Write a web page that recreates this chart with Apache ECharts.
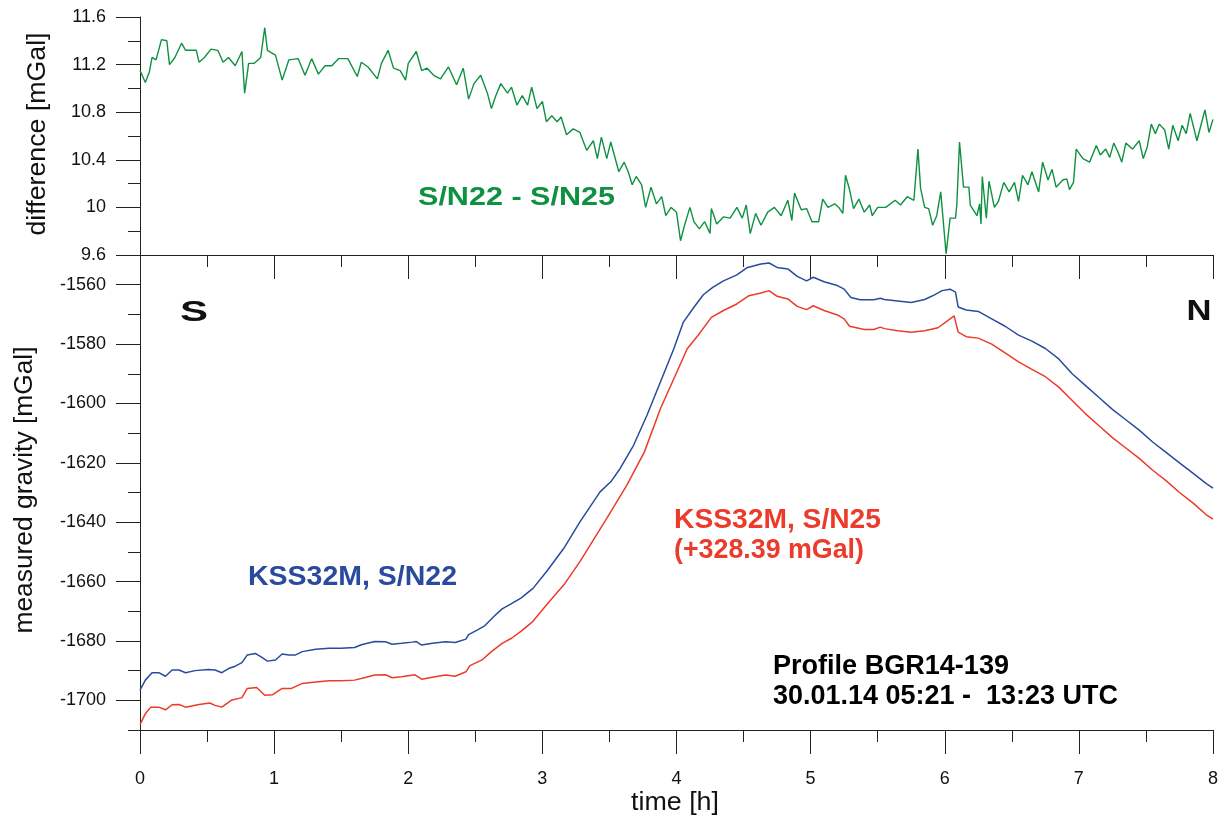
<!DOCTYPE html>
<html>
<head>
<meta charset="utf-8">
<script src="https://cdn.jsdelivr.net/npm/echarts@6/dist/echarts.min.js"></script>
<style>
  html, body { margin: 0; padding: 0; background: #fff; }
  #chart { width: 1225px; height: 819px; }
</style>
</head>
<body>
<div id="chart"></div>
<script>
// time [h] and difference S/N22 - S/N25 [mGal]
const diffTime = [0.00,0.04,0.07,0.09,0.12,0.16,0.20,0.22,0.26,0.31,0.34,0.42,0.44,0.48,0.53,0.58,0.62,0.66,0.71,0.76,0.78,0.81,0.85,0.90,0.93,0.95,1.01,1.06,1.11,1.18,1.23,1.28,1.33,1.38,1.43,1.48,1.55,1.62,1.65,1.70,1.77,1.80,1.85,1.89,1.94,1.98,2.00,2.06,2.10,2.14,2.19,2.24,2.30,2.36,2.41,2.45,2.49,2.54,2.59,2.62,2.65,2.69,2.74,2.77,2.81,2.85,2.89,2.92,2.96,3.00,3.03,3.07,3.11,3.14,3.18,3.23,3.28,3.33,3.38,3.41,3.44,3.48,3.51,3.57,3.61,3.64,3.67,3.70,3.74,3.77,3.81,3.85,3.89,3.92,3.96,4.00,4.03,4.06,4.10,4.13,4.17,4.21,4.25,4.26,4.30,4.35,4.40,4.45,4.49,4.52,4.55,4.59,4.63,4.68,4.73,4.78,4.83,4.86,4.88,4.93,4.97,5.01,5.06,5.09,5.13,5.18,5.21,5.24,5.26,5.29,5.32,5.36,5.40,5.44,5.46,5.50,5.56,5.63,5.67,5.72,5.77,5.80,5.82,5.85,5.88,5.91,5.94,5.97,6.01,6.04,6.08,6.09,6.11,6.14,6.18,6.19,6.24,6.26,6.27,6.28,6.31,6.33,6.37,6.40,6.44,6.48,6.52,6.55,6.58,6.62,6.65,6.70,6.73,6.77,6.80,6.83,6.88,6.91,6.93,6.96,6.98,7.03,7.08,7.13,7.16,7.20,7.23,7.26,7.29,7.32,7.35,7.40,7.45,7.48,7.51,7.54,7.57,7.60,7.64,7.67,7.70,7.74,7.77,7.80,7.83,7.88,7.91,7.94,7.97,8.00];
const diffValue = [11.15,11.05,11.14,11.26,11.24,11.41,11.40,11.20,11.26,11.38,11.32,11.32,11.22,11.26,11.33,11.32,11.22,11.26,11.19,11.31,10.96,11.21,11.21,11.26,11.51,11.32,11.28,11.07,11.24,11.25,11.11,11.25,11.12,11.19,11.19,11.25,11.25,11.10,11.22,11.18,11.08,11.21,11.32,11.17,11.15,11.07,11.21,11.31,11.15,11.17,11.11,11.08,11.18,11.03,11.17,10.91,11.04,11.11,10.96,10.83,10.93,11.04,10.96,11.01,10.86,10.94,10.86,11.01,10.83,10.89,10.72,10.77,10.72,10.76,10.61,10.66,10.63,10.48,10.56,10.41,10.59,10.41,10.55,10.30,10.38,10.30,10.19,10.26,10.19,10.00,10.17,10.03,10.09,9.93,10.00,9.96,9.72,9.85,10.00,9.88,9.82,9.88,9.78,9.99,9.86,9.92,9.91,10.00,9.91,10.02,9.78,9.95,9.85,9.96,10.00,9.93,10.06,9.89,10.12,9.98,9.99,9.88,9.88,10.07,10.00,10.03,10.00,9.95,10.27,10.15,9.99,10.07,9.96,10.02,9.93,10.00,10.00,10.06,10.02,10.09,10.06,10.49,10.16,10.00,9.99,9.85,9.93,10.13,9.61,9.91,9.91,10.02,10.55,10.17,10.17,10.02,9.93,10.03,9.86,10.26,9.91,10.22,10.00,10.05,10.21,10.13,10.21,10.05,10.27,10.19,10.30,10.13,10.38,10.23,10.32,10.17,10.23,10.24,10.15,10.21,10.49,10.41,10.38,10.52,10.44,10.49,10.42,10.54,10.47,10.38,10.54,10.49,10.56,10.41,10.51,10.70,10.62,10.70,10.65,10.49,10.69,10.56,10.69,10.62,10.79,10.56,10.69,10.82,10.63,10.74];

// KSS32M, S/N22 [mGal]
const s22Time = [0,0.04,0.09,0.14,0.19,0.24,0.29,0.34,0.41,0.51,0.56,0.61,0.66,0.71,0.76,0.80,0.86,0.90,0.95,1.01,1.06,1.11,1.16,1.21,1.31,1.41,1.50,1.60,1.65,1.75,1.83,1.88,1.95,2.03,2.06,2.10,2.18,2.28,2.35,2.43,2.45,2.52,2.57,2.64,2.70,2.76,2.84,2.93,3.03,3.16,3.28,3.43,3.51,3.58,3.68,3.78,3.88,3.98,4.05,4.13,4.20,4.27,4.35,4.45,4.53,4.63,4.69,4.75,4.83,4.90,4.97,5.02,5.10,5.20,5.25,5.30,5.37,5.47,5.52,5.55,5.65,5.75,5.85,5.92,5.98,6.04,6.08,6.10,6.16,6.25,6.35,6.45,6.55,6.65,6.75,6.85,6.95,7.05,7.15,7.25,7.35,7.45,7.55,7.65,7.75,7.85,7.95,8.00];
const s22Value = [-1696.6,-1693.2,-1690.7,-1690.7,-1691.9,-1689.8,-1689.8,-1690.7,-1690.0,-1689.6,-1689.8,-1690.7,-1689.3,-1688.5,-1687.3,-1684.7,-1684.2,-1685.3,-1686.8,-1686.4,-1684.4,-1684.7,-1684.7,-1683.6,-1682.8,-1682.5,-1682.5,-1682.2,-1681.3,-1680.2,-1680.3,-1681.1,-1680.8,-1680.4,-1680.2,-1681.4,-1680.8,-1680.3,-1680.5,-1679.4,-1677.9,-1676.2,-1674.9,-1671.7,-1669.2,-1667.7,-1665.6,-1662.3,-1656.7,-1648.8,-1639.9,-1629.8,-1626.4,-1621.9,-1614.1,-1604.0,-1592.8,-1581.6,-1572.7,-1567.6,-1563.4,-1560.9,-1558.7,-1556.7,-1554.2,-1553.0,-1552.7,-1554.2,-1554.7,-1557.2,-1558.7,-1557.5,-1559.0,-1560.3,-1561.5,-1564.3,-1565.1,-1565.1,-1564.6,-1565.0,-1565.5,-1566.0,-1565.0,-1563.5,-1562.0,-1561.5,-1562.5,-1567.5,-1568.5,-1569.0,-1571.5,-1574.0,-1577.0,-1579.0,-1581.5,-1585.0,-1590.0,-1594.0,-1598.0,-1602.0,-1605.5,-1609.0,-1613.0,-1616.5,-1620.0,-1623.5,-1627.0,-1628.5];

// KSS32M, S/N25 (+328.39 mGal)
const s25Time = [0,0.04,0.08,0.14,0.19,0.24,0.29,0.34,0.44,0.52,0.56,0.61,0.68,0.76,0.80,0.87,0.93,0.99,1.06,1.13,1.21,1.31,1.41,1.50,1.60,1.68,1.75,1.83,1.88,1.95,2.05,2.10,2.20,2.28,2.35,2.43,2.46,2.55,2.62,2.70,2.77,2.84,2.93,3.03,3.16,3.28,3.48,3.63,3.76,3.88,3.98,4.08,4.16,4.26,4.35,4.45,4.54,4.63,4.69,4.75,4.83,4.90,4.97,5.02,5.10,5.20,5.25,5.29,5.40,5.47,5.52,5.55,5.65,5.75,5.85,5.95,6.04,6.07,6.10,6.16,6.25,6.35,6.45,6.55,6.65,6.75,6.85,6.95,7.05,7.15,7.25,7.35,7.45,7.55,7.65,7.75,7.85,7.95,8.00];
const s25Value = [-1708.2,-1704.5,-1702.3,-1702.3,-1703.2,-1701.5,-1701.4,-1702.3,-1701.4,-1700.9,-1701.7,-1702.3,-1700.0,-1699.1,-1696.0,-1695.7,-1698.3,-1698.1,-1696.0,-1696.0,-1694.3,-1693.8,-1693.4,-1693.4,-1693.2,-1692.3,-1691.5,-1691.4,-1692.4,-1692.1,-1691.4,-1692.9,-1692.1,-1691.5,-1691.9,-1690.4,-1688.3,-1686.4,-1683.6,-1680.8,-1679.1,-1676.8,-1673.4,-1667.9,-1661.1,-1653.3,-1638.7,-1627.5,-1616.4,-1601.8,-1591.7,-1581.6,-1577.1,-1571.0,-1568.7,-1566.5,-1563.7,-1562.8,-1562.0,-1563.9,-1564.8,-1567.3,-1568.4,-1567.1,-1568.7,-1570.2,-1571.5,-1574.0,-1575.1,-1575.1,-1574.3,-1574.8,-1575.5,-1576.0,-1575.5,-1574.5,-1571.5,-1570.5,-1576.0,-1577.5,-1578.0,-1580.0,-1583.0,-1586.0,-1588.5,-1591.0,-1594.5,-1599.0,-1603.5,-1607.5,-1611.5,-1615.0,-1618.5,-1622.5,-1626.0,-1630.0,-1633.5,-1637.5,-1639.0];

const gravityMajor = [-1700, -1680, -1660, -1640, -1620, -1600, -1580, -1560];
const gravityMinor = [-1710, -1690, -1670, -1650, -1630, -1610, -1590, -1570];

const zip = (t, v) => t.map((x, i) => [x, v[i]]);

const FONT = "'Liberation Sans', Arial, sans-serif";
const GREEN = '#0f9142';
const BLUE = '#2a4a9e';
const RED = '#ec3b2a';

// squeeze text to the width it takes in the original
const ctx = document.createElement('canvas').getContext('2d');
function fit(text, size, weight, width) {
  ctx.font = weight + ' ' + size + 'px ' + FONT;
  return width / ctx.measureText(text).width;
}
function label(text, x, y, size, weight, color, width, opts) {
  opts = opts || {};
  return {
    type: 'text', x: x, y: y, z: 100,
    rotation: opts.rotation || 0,
    scaleX: fit(text, size, weight, width),
    style: {
      text: text, fill: color,
      fontSize: size, fontWeight: weight, fontFamily: FONT,
      textAlign: opts.align || 'left', textVerticalAlign: 'middle'
    }
  };
}

const tickStyle = { color: '#222', width: 1 };
const axisText = { fontSize: 18, color: '#111', fontFamily: FONT, formatter: v => String(v) };

const myChart = echarts.init(document.getElementById('chart'));
const option = {
  animation: false,
  backgroundColor: '#fff',
  grid: [
    { left: 140, right: 12, top: 17, height: 238 },
    { left: 140, right: 12, top: 255, height: 475 }
  ],
  xAxis: [
    {
      gridIndex: 0, type: 'value', min: 0, max: 8, interval: 1,
      axisLine: { onZero: false, lineStyle: tickStyle },
      axisTick: { length: 24, lineStyle: tickStyle },
      minorTick: { show: true, splitNumber: 2, length: 12, lineStyle: tickStyle },
      axisLabel: { show: false },
      splitLine: { show: false }
    },
    {
      gridIndex: 1, type: 'value', min: 0, max: 8, interval: 1,
      axisLine: { onZero: false, lineStyle: tickStyle },
      axisTick: { length: 24, lineStyle: tickStyle },
      minorTick: { show: true, splitNumber: 2, length: 12, lineStyle: tickStyle },
      axisLabel: Object.assign({ margin: 40 }, axisText),
      splitLine: { show: false }
    }
  ],
  yAxis: [
    {
      gridIndex: 0, type: 'value', min: 9.6, max: 11.6, interval: 0.4,
      axisLine: { show: true, lineStyle: tickStyle },
      axisTick: { show: true, length: 24, lineStyle: tickStyle },
      minorTick: { show: true, splitNumber: 2, length: 12, lineStyle: tickStyle },
      axisLabel: Object.assign({ margin: 34 }, axisText),
      splitLine: { show: false }
    },
    {
      gridIndex: 1, type: 'value', position: 'left', min: -1710, max: -1550,
      axisLine: { show: true, lineStyle: tickStyle },
      axisTick: { show: true, length: 24, customValues: gravityMajor, lineStyle: tickStyle },
      axisLabel: Object.assign({ margin: 34, customValues: gravityMajor }, axisText),
      splitLine: { show: false }
    },
    {
      gridIndex: 1, type: 'value', position: 'left', offset: 0, min: -1710, max: -1550,
      axisLine: { show: false },
      axisTick: { show: true, length: 12, customValues: gravityMinor, lineStyle: tickStyle },
      axisLabel: { show: false },
      splitLine: { show: false }
    }
  ],
  series: [
    {
      name: 'S/N22 - S/N25', type: 'line', xAxisIndex: 0, yAxisIndex: 0,
      data: zip(diffTime, diffValue), showSymbol: false, symbol: 'none',
      lineStyle: { color: GREEN, width: 1.4 }
    },
    {
      name: 'KSS32M, S/N22', type: 'line', xAxisIndex: 1, yAxisIndex: 1,
      data: zip(s22Time, s22Value), showSymbol: false, symbol: 'none',
      lineStyle: { color: BLUE, width: 1.5 }
    },
    {
      name: 'KSS32M, S/N25', type: 'line', xAxisIndex: 1, yAxisIndex: 1,
      data: zip(s25Time, s25Value), showSymbol: false, symbol: 'none',
      lineStyle: { color: RED, width: 1.5 }
    }
  ],
  graphic: [
    label('difference [mGal]', 38, 134, 26, 'normal', '#111', 203, { rotation: Math.PI / 2, align: 'center' }),
    label('measured gravity [mGal]', 25, 490, 26, 'normal', '#111', 287, { rotation: Math.PI / 2, align: 'center' }),
    label('time [h]', 675, 803, 25, 'normal', '#111', 88, { align: 'center' }),
    label('S/N22 - S/N25', 418, 198, 26, 'bold', GREEN, 197),
    label('S', 194, 313, 30, 'bold', '#111', 28, { align: 'center' }),
    label('N', 1199, 312, 30, 'bold', '#111', 25, { align: 'center' }),
    label('KSS32M, S/N22', 248, 578, 27, 'bold', BLUE, 209),
    label('KSS32M, S/N25', 674, 521, 27, 'bold', RED, 207),
    label('(+328.39 mGal)', 674, 551, 27, 'bold', RED, 190),
    label('Profile BGR14-139', 773, 667, 27, 'bold', '#000', 236),
    label('30.01.14 05:21 -  13:23 UTC', 773, 697, 27, 'bold', '#000', 345)
  ]
};
myChart.setOption(option);
</script>
</body>
</html>
